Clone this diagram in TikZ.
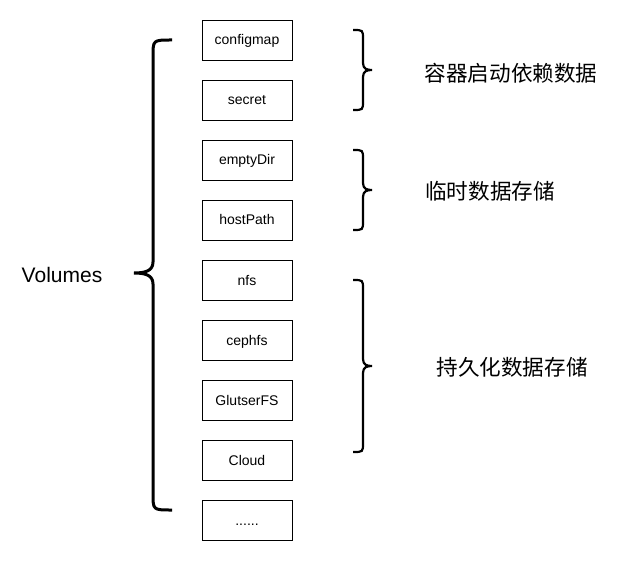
\documentclass[tikz,border=0pt]{standalone}
\usepackage{fontspec}
\setmainfont{Liberation Sans}
\newfontfamily\cjk{Noto Sans CJK SC}
\usepackage{xcolor}
\usetikzlibrary{positioning}

\tikzset{
  volbox/.style={draw=black, line width=0.8pt, minimum width=90pt, minimum height=40pt,
                 inner sep=0pt, outer sep=0pt, text height=14pt, text depth=4pt,
                 font=\fontsize{14}{16}\selectfont},
  bigbrace/.style={line width=3pt},
  smallbrace/.style={line width=2.2pt},
  group/.style={font=\cjk\fontsize{21.6}{24}\selectfont, inner sep=0pt}
}

\begin{document}
\begin{tikzpicture}[x=1pt, y=-1pt, node distance=20pt]
  \useasboundingbox (0,0) rectangle (623,561);

  % volume types
  \node[volbox] (configmap) at (247,40) {configmap};
  \node[volbox, below=of configmap] (secret) {secret};
  \node[volbox, below=of secret] (emptydir) {emptyDir};
  \node[volbox, below=of emptydir] (hostpath) {hostPath};
  \node[volbox, below=of hostpath] (nfs) {nfs};
  \node[volbox, below=of nfs] (cephfs) {cephfs};
  \node[volbox, below=of cephfs] (glusterfs) {GlutserFS};
  \node[volbox, below=of glusterfs] (cloud) {Cloud};
  \node[volbox, below=of cloud] (more) {......};

  \node[font=\fontsize{21}{24}\selectfont, inner sep=0pt] (volumes) at (62,275) {Volumes};

  % left brace
  \draw[bigbrace] (172,40) .. controls (153,40) .. (153,56) -- (153,262)
    .. controls (153,271) and (145,273) .. (134,273)
    .. controls (145,273) and (153,275) .. (153,284) -- (153,494)
    .. controls (153,510) .. (172,510);

  % right braces
  \foreach \ya/\yb in {30/110, 150/230, 280/452}{
    \pgfmathsetmacro\ym{(\ya+\yb)/2}
    \draw[smallbrace] (353,\ya) .. controls (363,\ya) .. (363,\ya+9) -- (363,\ym-7)
      .. controls (363,\ym-1) and (367,\ym) .. (372,\ym)
      .. controls (367,\ym) and (363,\ym+1) .. (363,\ym+7) -- (363,\yb-9)
      .. controls (363,\yb) .. (353,\yb);
  }

  \node[group] (startup) at (511,73) {容器启动依赖数据};
  \node[group] (temp) at (490,191) {临时数据存储};
  \node[group] (persist) at (512,367) {持久化数据存储};
\end{tikzpicture}
\end{document}
